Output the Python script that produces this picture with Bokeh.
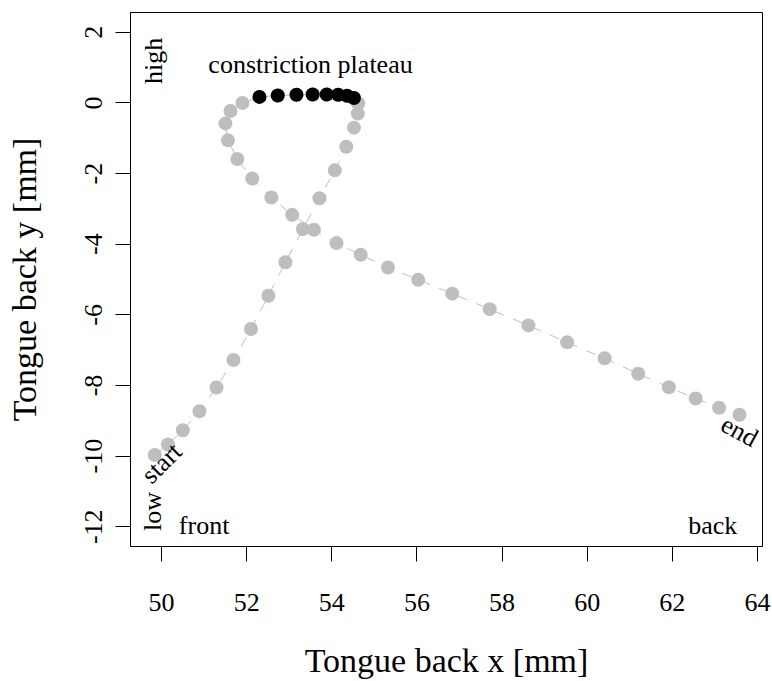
from bokeh.plotting import figure
from bokeh.models import Range1d, FixedTicker
from bokeh.core.properties import value
from bokeh.embed import file_html
from bokeh.resources import INLINE

# trajectory of the tongue back sensor (mm)
traj_x = [49.84, 50.15, 50.50, 50.89, 51.29, 51.69, 52.10, 52.51, 52.91, 53.32,
          53.71, 54.07, 54.34, 54.52, 54.61, 54.62,
          54.52, 54.36, 54.15, 53.88, 53.55, 53.17, 52.73, 52.30,
          51.90, 51.62, 51.50, 51.56, 51.78, 52.13, 52.58, 53.07, 53.58,
          54.11, 54.68, 55.32, 56.03, 56.83, 57.71, 58.62, 59.53, 60.41,
          61.20, 61.92, 62.55, 63.10, 63.58]
traj_y = [-9.97, -9.67, -9.27, -8.73, -8.06, -7.28, -6.40, -5.46, -4.51, -3.57,
          -2.70, -1.91, -1.24, -0.70, -0.30, -0.01,
          0.14, 0.20, 0.23, 0.24, 0.24, 0.23, 0.21, 0.17,
          0.00, -0.23, -0.58, -1.06, -1.59, -2.14, -2.68, -3.17, -3.59,
          -3.97, -4.30, -4.66, -5.01, -5.40, -5.84, -6.30, -6.78, -7.23,
          -7.67, -8.05, -8.37, -8.63, -8.83]
# indices of samples belonging to the constriction plateau
plateau_idx = [16, 17, 18, 19, 20, 21, 22, 23]

x_ticks = [50, 52, 54, 56, 58, 60, 62, 64]
y_ticks = [-12, -10, -8, -6, -4, -2, 0, 2]
y_tick_labels = ["-12", "-10", "-8", "-6", "-4", "-2", "0", "2"]

plat_x = [traj_x[i] for i in plateau_idx]
plat_y = [traj_y[i] for i in plateau_idx]

FONT = "Liberation Serif"

p = figure(width=772, height=681, output_backend="svg", toolbar_location=None,
           x_range=Range1d(49.27, 64.12), y_range=Range1d(-12.56, 2.56),
           min_border_left=130, min_border_right=10, min_border_top=12,
           min_border_bottom=134)
p.background_fill_color = "white"
p.border_fill_color = "white"
p.outline_line_color = "black"
p.outline_line_width = 1
p.xgrid.visible = False
p.ygrid.visible = False

for ax in (p.xaxis[0], p.yaxis[0]):
    ax.axis_line_color = "black"
    ax.major_tick_line_color = "black"
    ax.major_tick_in = 0
    ax.major_tick_out = 15
    ax.minor_tick_line_color = None
    ax.major_label_text_font = FONT
    ax.major_label_text_font_size = "26px"
    ax.major_label_text_color = "black"
    ax.axis_label_text_font = FONT
    ax.axis_label_text_font_size = "34px"
    ax.axis_label_text_font_style = "normal"
    ax.axis_label_text_color = "black"

p.xaxis.ticker = FixedTicker(ticks=x_ticks)
p.yaxis.ticker = FixedTicker(ticks=y_ticks)
p.yaxis.major_label_overrides = {t: s for t, s in zip(y_ticks, y_tick_labels)}
p.xaxis.axis_label = "Tongue back x [mm]"
p.yaxis.axis_label = "Tongue back y [mm]"
p.yaxis.major_label_orientation = "vertical"
p.xaxis.major_label_standoff = 32
p.xaxis.axis_label_standoff = 28
p.yaxis.major_label_standoff = 13
p.yaxis.axis_label_standoff = 40

p.line(traj_x, traj_y, line_color="#BEBEBE", line_width=1, line_dash="10 10")
p.scatter(traj_x, traj_y, size=14, fill_color="#BEBEBE", line_color=None)
p.scatter(plat_x, plat_y, size=14, fill_color="black", line_color=None)

ann = dict(text_font=value(FONT), text_font_size="26px", text_color="black")
p.text([53.50], [1.09], text=["constriction plateau"], text_align="center",
       text_baseline="middle", **ann)
p.text([49.81], [1.19], text=["high"], angle=1.5708, text_align="center",
       text_baseline="middle", **ann)
p.text([49.79], [-11.57], text=["low"], angle=1.5708, text_align="center",
       text_baseline="middle", **ann)
p.text([51.0], [-11.97], text=["front"], text_align="center",
       text_baseline="middle", **ann)
p.text([62.95], [-11.97], text=["back"], text_align="center",
       text_baseline="middle", **ann)
p.text([50.0], [-10.20], text=["start"], angle=0.785, text_align="center",
       text_baseline="middle", **ann)
p.text([63.58], [-9.30], text=["end"], angle=-0.50, text_align="center",
       text_baseline="middle", **ann)

open("out.html", "w").write(file_html(p, INLINE))
